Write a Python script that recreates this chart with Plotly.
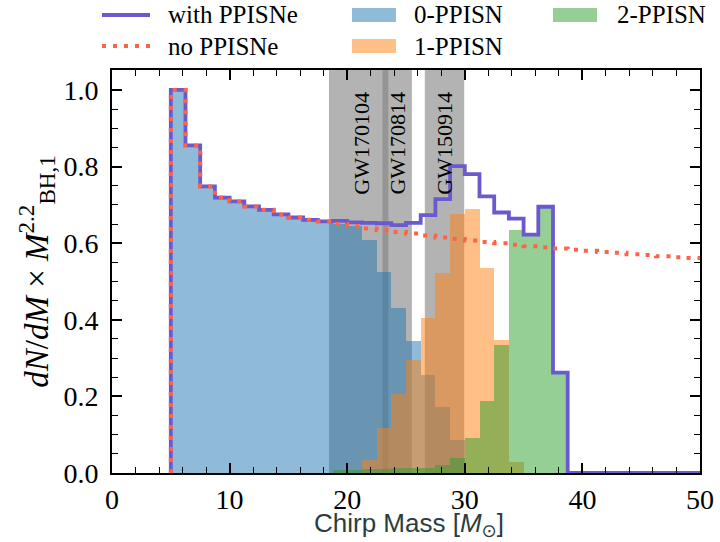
import plotly.graph_objects as go

# Chirp-mass histogram bin edges [M_sun]
bin_edges = [5.0, 6.25, 7.5, 8.75, 10.0, 11.25, 12.5, 13.75, 15.0, 16.25,
             17.5, 18.75, 20.0, 21.25, 22.5, 23.75, 25.0, 26.25, 27.5, 28.75,
             30.0, 31.25, 32.5, 33.75, 35.0, 36.25, 37.5, 38.75, 40.0, 41.25,
             42.5, 43.75, 45.0, 46.25, 47.5, 48.75, 50.0]

# Normalised dN/dM x M^2.2 per bin, split by number of PPISNe in the binary
zero_ppisn = [1.000, 0.855, 0.748, 0.719, 0.709, 0.696, 0.687, 0.675, 0.667, 0.661,
              0.657, 0.650, 0.645, 0.608, 0.525, 0.430, 0.345, 0.255, 0.172, 0.085,
              0.0, 0.0, 0.0, 0.0, 0.0, 0.0, 0.0, 0.0, 0.0, 0.0,
              0.0, 0.0, 0.0, 0.0, 0.0, 0.0]
one_ppisn = [0.0, 0.0, 0.0, 0.0, 0.0, 0.0, 0.0, 0.0, 0.0, 0.0,
             0.0, 0.0, 0.0, 0.035, 0.117, 0.205, 0.296, 0.405, 0.522, 0.676,
             0.688, 0.534, 0.347, 0.030, 0.0, 0.0, 0.0, 0.0, 0.0, 0.0,
             0.0, 0.0, 0.0, 0.0, 0.0, 0.0]
two_ppisn = [0.0, 0.0, 0.0, 0.0, 0.0, 0.0, 0.0, 0.0, 0.0, 0.0,
             0.0, 0.008, 0.009, 0.010, 0.010, 0.012, 0.012, 0.013, 0.021, 0.040,
             0.092, 0.188, 0.333, 0.634, 0.622, 0.695, 0.262, 0.0, 0.0, 0.0,
             0.0, 0.0, 0.0, 0.0, 0.0, 0.0]
# Model without pair-pulsational pair-instability supernovae
no_ppisne = [1.000, 0.855, 0.748, 0.719, 0.709, 0.696, 0.687, 0.675, 0.667, 0.661,
             0.657, 0.650, 0.644, 0.638, 0.634, 0.629, 0.625, 0.620, 0.615, 0.611,
             0.607, 0.603, 0.600, 0.596, 0.592, 0.589, 0.586, 0.583, 0.580, 0.577,
             0.575, 0.571, 0.569, 0.566, 0.563, 0.561]

# Observed events: chirp-mass credible intervals and label positions
gw_names = ["GW170104", "GW170814", "GW150914"]
gw_lo = [18.45, 23.0, 26.6]
gw_hi = [23.5, 25.5, 29.95]
gw_label_x = [21.2, 24.25, 28.25]

with_ppisne = [a + b + c for a, b, c in zip(zero_ppisn, one_ppisn, two_ppisn)]

left = bin_edges[:-1]
widths = [bin_edges[i + 1] - bin_edges[i] for i in range(len(left))]

SERIF = "'Liberation Serif', 'Times New Roman', 'DejaVu Serif', serif"
SANS = "'Liberation Sans', Arial, 'DejaVu Sans', sans-serif"
C_BLUE = "rgba(31,119,180,0.5)"
C_ORANGE = "rgba(255,127,14,0.5)"
C_GREEN = "rgba(44,160,44,0.5)"
C_PURPLE = "#6a5acd"
C_RED = "#ff6347"

fig = go.Figure()

for vals, col, name in [(zero_ppisn, C_BLUE, "0-PPISN"),
                        (one_ppisn, C_ORANGE, "1-PPISN"),
                        (two_ppisn, C_GREEN, "2-PPISN")]:
    fig.add_trace(go.Bar(x=left, y=vals, width=widths, offset=0, name=name,
                         marker=dict(color=col, line=dict(width=0)),
                         showlegend=False))


def step_xy(vals, drop_end):
    xs = [bin_edges[0]] + list(left) + [bin_edges[-1]]
    ys = [0.0] + list(vals) + [vals[-1]]
    if drop_end:
        xs.append(bin_edges[-1])
        ys.append(0.0)
    return xs, ys


xs, ys = step_xy(with_ppisne, True)
fig.add_trace(go.Scatter(x=xs, y=ys, mode="lines", line_shape="hv",
                         line=dict(color=C_PURPLE, width=3.8),
                         name="with PPISNe", showlegend=False))
xs, ys = step_xy(no_ppisne, False)
fig.add_trace(go.Scatter(x=xs, y=ys, mode="lines", line_shape="hv",
                         line=dict(color=C_RED, width=4, dash="4px,7px"),
                         name="no PPISNe", showlegend=False))

shapes = []
annotations = []
for name, lo, hi, lx in zip(gw_names, gw_lo, gw_hi, gw_label_x):
    shapes.append(dict(type="rect", xref="x", yref="y domain", x0=lo, x1=hi,
                       y0=0, y1=1, layer="below", line=dict(width=0),
                       fillcolor="rgba(128,128,128,0.6)"))
    annotations.append(dict(x=lx, y=1.0, xref="x", yref="y", text=name,
                            textangle=-90, showarrow=False, xanchor="center",
                            yanchor="top", font=dict(family=SERIF, size=22,
                                                     color="black")))

# Legend drawn in paper coordinates
L, R, T, B = 112, 20, 70, 69
W, H = 720, 542
pw, ph = W - L - R, H - T - B


def px_x(p):
    return (p - L) / pw


def px_y(p):
    return (H - B - p) / ph


legend_font = dict(family=SERIF, size=25, color="black")
shapes.append(dict(type="line", xref="paper", yref="paper",
                   x0=px_x(102), x1=px_x(150), y0=px_y(15), y1=px_y(15),
                   line=dict(color=C_PURPLE, width=3.8)))
shapes.append(dict(type="line", xref="paper", yref="paper",
                   x0=px_x(102), x1=px_x(150), y0=px_y(46), y1=px_y(46),
                   line=dict(color=C_RED, width=4, dash="4px,7px")))
for (x0, yc, col) in [(352, 15, C_BLUE), (352, 46, C_ORANGE), (553, 15, C_GREEN)]:
    shapes.append(dict(type="rect", xref="paper", yref="paper",
                       x0=px_x(x0), x1=px_x(x0 + 44),
                       y0=px_y(yc + 7), y1=px_y(yc - 7),
                       line=dict(width=0), fillcolor=col))
for (tx, yc, txt) in [(166, 15, "with PPISNe"), (166, 46, "no PPISNe"),
                      (412, 15, "0-PPISN"), (412, 46, "1-PPISN"),
                      (615, 15, "2-PPISN")]:
    annotations.append(dict(x=px_x(tx), y=px_y(yc), xref="paper", yref="paper",
                            text=txt, showarrow=False, xanchor="left",
                            yanchor="middle", font=legend_font))

# x-axis title placed as a paper annotation just under the tick labels
annotations.append(dict(x=px_x(409), y=px_y(542), xref="paper", yref="paper",
                        text="Chirp Mass [<i>M</i><sub>⊙</sub>]", showarrow=False,
                        xanchor="center", yanchor="bottom", borderpad=0,
                        font=dict(family=SANS, size=26, color="#2b3d3d")))

axis_common = dict(showline=True, linecolor="black", linewidth=2, mirror="ticks",
                   ticks="inside", ticklen=10, tickwidth=1.8, tickcolor="black",
                   showgrid=False, zeroline=False)

fig.update_layout(
    width=W, height=H,
    margin=dict(l=L, r=R, t=T, b=B, autoexpand=False),
    paper_bgcolor="white", plot_bgcolor="white",
    barmode="overlay", bargap=0, showlegend=False,
    shapes=shapes, annotations=annotations,
    xaxis=dict(range=[0, 50], tick0=0, dtick=10,
               minor=dict(ticks="inside", ticklen=6, tickwidth=1.3,
                          tickcolor="black", dtick=2, tick0=0),
               ticklabelstandoff=0,
               tickfont=dict(family=SERIF, size=28, color="black"),
               **axis_common),
    yaxis=dict(range=[0, 1.052], tick0=0, dtick=0.2, tickformat=".1f",
               minor=dict(ticks="inside", ticklen=6, tickwidth=1.3,
                          tickcolor="black", dtick=0.05, tick0=0),
               ticklabelstandoff=6,
               tickfont=dict(family=SERIF, size=28, color="black"),
               title=dict(text="<i>dN</i>/<i>dM</i> × <i>M</i><sup>2.2</sup><sub>BH,1</sub>",
                          standoff=5,
                          font=dict(family=SERIF, size=33, color="black")),
               **axis_common),
)

fig.write_html("out.html")
